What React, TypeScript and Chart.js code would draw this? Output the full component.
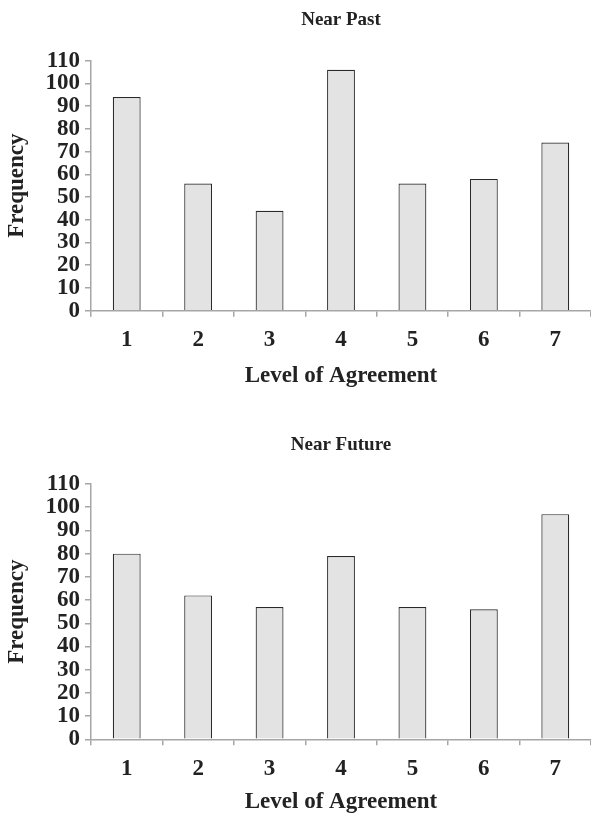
import React, { useEffect, useRef } from "react";
import { Chart, registerables } from "chart.js";

Chart.register(...registerables);

const categories = ["1", "2", "3", "4", "5", "6", "7"];
const nearPastValues = [94, 56, 44, 106, 56, 58, 74];
const nearFutureValues = [80, 62, 57, 79, 57, 56, 97];
const yTicks = [0, 10, 20, 30, 40, 50, 60, 70, 80, 90, 100, 110];

const FONT = "'Liberation Serif', 'Times New Roman', serif";
const AXIS_GRAY = "#a6a6a6";

type PanelProps = {
  title: string;
  values: number[];
  height: number;
  titleTop: number;
  plotTop: number;
  plotBottom: number;
  xTitleCenter: number;
};

function Panel({ title, values, height, titleTop, plotTop, plotBottom, xTitleCenter }: PanelProps) {
  const ref = useRef<HTMLCanvasElement | null>(null);
  useEffect(() => {
    if (!ref.current) return;
    const titleLH = 19 * 1.2;
    const titlePadTop = titleTop - titleLH / 2;
    const titlePadBottom = plotTop - titlePadTop - titleLH;
    const xAxisHeight = height - plotBottom;
    const xTitleLH = 23 * 1.2;
    const xTitlePadBottom = height - xTitleCenter - xTitleLH / 2;
    const centeredTitle = {
      id: "centeredTitle",
      afterDraw(c: any) {
        const ctx = c.ctx;
        const area = c.chartArea;
        ctx.save();
        ctx.font = `bold 19px ${FONT}`;
        ctx.fillStyle = "#222";
        ctx.textAlign = "center";
        ctx.textBaseline = "middle";
        ctx.fillText(title, (area.left + area.right) / 2, titleTop);
        ctx.restore();
      },
    };
    const chart = new Chart(ref.current, {
      type: "bar",
      data: {
        labels: categories,
        datasets: [
          {
            data: values,
            backgroundColor: "#e3e3e3",
            borderColor: "#2a2a2a",
            borderWidth: 1.2,
            categoryPercentage: 1,
            barPercentage: 0.39,
          },
        ],
      },
      plugins: [centeredTitle],
      options: {
        animation: false,
        responsive: true,
        maintainAspectRatio: false,
        layout: { padding: { left: 0, right: 0, top: 0, bottom: 0 } },
        plugins: {
          legend: { display: false },
          tooltip: { enabled: false },
          title: {
            display: true,
            text: title,
            color: "rgba(0,0,0,0)",
            font: { family: FONT, size: 19, weight: "bold", lineHeight: 1.2 },
            padding: { top: titlePadTop, bottom: titlePadBottom },
          },
        },
        scales: {
          x: {
            grid: {
              display: true,
              drawOnChartArea: false,
              drawTicks: true,
              tickLength: 6,
              color: AXIS_GRAY,
              lineWidth: 1.5,
              offset: true,
            },
            border: { display: true, color: AXIS_GRAY, width: 1.5 },
            ticks: {
              color: "#222",
              autoSkip: false,
              maxRotation: 0,
              font: { family: FONT, size: 23, weight: "bold", lineHeight: 1.2 },
              padding: 10,
            },
            title: {
              display: true,
              text: "Level of Agreement",
              color: "#222",
              font: { family: FONT, size: 23, weight: "bold", lineHeight: 1.2 },
              padding: { top: 0, bottom: xTitlePadBottom },
            },
            afterFit: (axis: any) => {
              axis.height = xAxisHeight;
            },
          },
          y: {
            min: 0,
            max: 110,
            afterBuildTicks: (axis: any) => {
              axis.ticks = yTicks.map((v) => ({ value: v }));
            },
            grid: {
              display: true,
              drawOnChartArea: false,
              drawTicks: true,
              tickLength: 6,
              color: AXIS_GRAY,
              lineWidth: 1.5,
            },
            border: { display: true, color: AXIS_GRAY, width: 1.5 },
            ticks: {
              color: "#222",
              autoSkip: false,
              font: { family: FONT, size: 23, weight: "bold", lineHeight: 1.2 },
              padding: 5,
            },
            title: {
              display: true,
              text: "Frequency",
              color: "#222",
              font: { family: FONT, size: 23, weight: "bold", lineHeight: 1.2 },
              padding: { top: 3, bottom: 0 },
            },
            afterFit: (axis: any) => {
              axis.width = 91;
            },
          },
        },
      },
    });
    return () => chart.destroy();
  }, [title, values, height, titleTop, plotTop, plotBottom, xTitleCenter]);
  return (
    <div style={{ position: "relative", width: 591, height }}>
      <canvas ref={ref} />
    </div>
  );
}

export default function App() {
  return (
    <div style={{ position: "fixed", left: 0, top: 0, width: 591, height: 817, background: "#fff" }}>
      <Panel
        title="Near Past"
        values={nearPastValues}
        height={410}
        titleTop={20}
        plotTop={60.7}
        plotBottom={310.7}
        xTitleCenter={376}
      />
      <Panel
        title="Near Future"
        values={nearFutureValues}
        height={407}
        titleTop={35}
        plotTop={74}
        plotBottom={329.3}
        xTitleCenter={392}
      />
    </div>
  );
}
